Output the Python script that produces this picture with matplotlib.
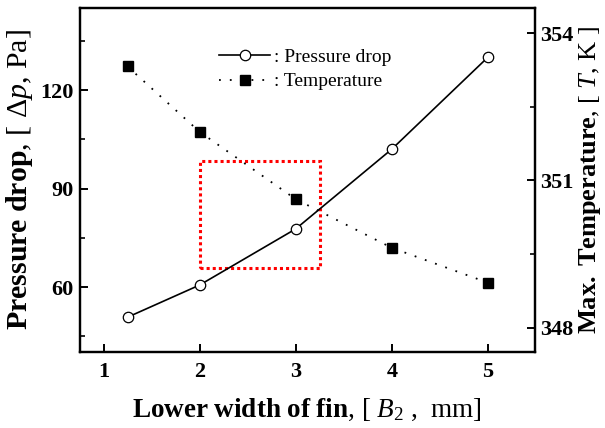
import matplotlib
matplotlib.use("Agg")
import matplotlib.pyplot as plt
from matplotlib.patches import Rectangle
from matplotlib.ticker import MultipleLocator

# ---- data ----
width_b2 = [1.25, 2, 3, 4, 5]
pressure_drop = [50.8, 60.6, 77.7, 102.0, 130.0]
max_temperature = [353.32, 351.99, 350.62, 349.63, 348.92]
x_ticks = [1, 2, 3, 4, 5]
left_ticks = [60, 90, 120]
right_ticks = [348, 351, 354]
box_x = [2.0, 3.25]
box_y = [65.7, 98.5]

plt.rcParams['font.family'] = ['Liberation Serif', 'DejaVu Serif']
plt.rcParams['mathtext.fontset'] = 'custom'
plt.rcParams['mathtext.rm'] = 'Liberation Serif'
plt.rcParams['mathtext.it'] = 'Liberation Serif:italic'
plt.rcParams['mathtext.bf'] = 'Liberation Serif:bold'

fig = plt.figure(figsize=(6.05, 4.28), dpi=100)
ax = fig.add_axes([79.5 / 605, 1 - 352 / 428, (535 - 79.5) / 605, (352 - 8) / 428])
ax2 = ax.twinx()

l1, = ax.plot(width_b2, pressure_drop, '-', color='black', lw=1.2,
              marker='o', markersize=7.5, markerfacecolor='white',
              markeredgecolor='black', markeredgewidth=0.9)
l2, = ax2.plot(width_b2, max_temperature, color='black', lw=1.3,
               linestyle=(0, (1, 5)), marker='s', markersize=7,
               markerfacecolor='black', markeredgecolor='black')

ax.add_patch(Rectangle((box_x[0], box_y[0]), box_x[1] - box_x[0], box_y[1] - box_y[0],
                       fill=False, edgecolor='red', lw=2.2, linestyle=(0, (1, 1.0)),
                       zorder=1))

ax.set_xlim(0.75, 5.49)
ax.set_ylim(40.2, 145.0)
ax2.set_ylim(347.51, 354.51)

ax.set_xticks(x_ticks)
ax.set_yticks(left_ticks)
ax.yaxis.set_minor_locator(MultipleLocator(15))
ax2.set_yticks(right_ticks)
ax2.yaxis.set_minor_locator(MultipleLocator(1.5))

for a in (ax, ax2):
    for s in a.spines.values():
        s.set_linewidth(1.6)
    a.tick_params(which='major', direction='in', length=6, width=1.4,
                  labelsize=16)
    a.tick_params(which='minor', direction='in', length=3.5, width=1.2)
    for lab in a.get_xticklabels() + a.get_yticklabels():
        lab.set_fontweight('bold')
ax.tick_params(axis='x', pad=7)
ax.tick_params(axis='y', pad=4)
ax2.tick_params(axis='y', pad=4)

ax.set_xlabel(r"$\mathbf{Lower\ width\ of\ fin}$, [ $\mathit{B}_{2}$ ,  mm]",
              fontsize=19.5, labelpad=11)
ax.set_ylabel(r"$\mathbf{Pressure\ drop}$, [ $\mathit{\Delta p}$, Pa]",
              fontsize=21.5, labelpad=4)
ax2.set_ylabel(r"$\mathbf{Max.\ Temperature}$, [ $\mathit{T}$, K ]",
               fontsize=19, labelpad=2, rotation=90)

leg = ax.legend([l1, l2], [": Pressure drop", ": Temperature"],
                loc='upper left', bbox_to_anchor=(0.29, 0.905), frameon=False,
                fontsize=14, handlelength=2.6, handletextpad=0.2,
                labelspacing=0.35, borderaxespad=0)

fig.savefig("out.png", dpi=100)
